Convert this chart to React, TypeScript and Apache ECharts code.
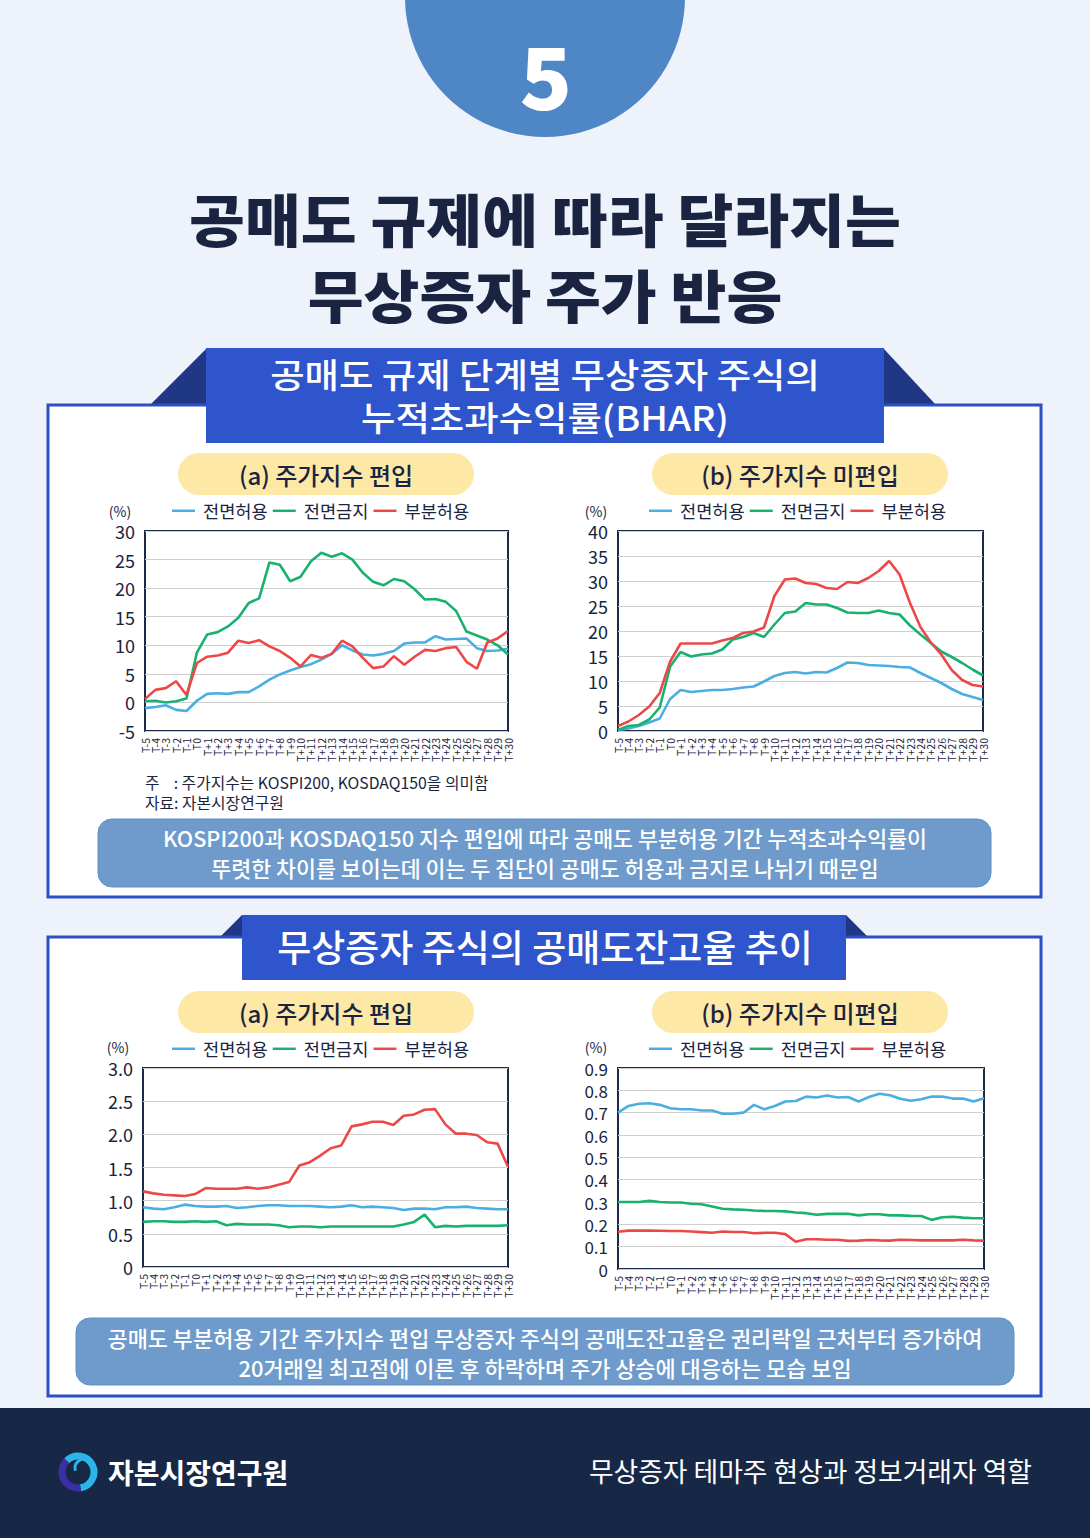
import React, { useEffect, useRef } from "react";
import * as echarts from "echarts";

const FONT = '"Noto Sans CJK KR", "Noto Sans", sans-serif';
const NAVY = "#1a2440";
const C_BLUE = "#4aaee2";
const C_GREEN = "#19b16e";
const C_RED = "#ec4848";

const categories = [
  "T-5", "T-4", "T-3", "T-2", "T-1", "T0",
  "T+1", "T+2", "T+3", "T+4", "T+5", "T+6", "T+7", "T+8", "T+9", "T+10",
  "T+11", "T+12", "T+13", "T+14", "T+15", "T+16", "T+17", "T+18", "T+19", "T+20",
  "T+21", "T+22", "T+23", "T+24", "T+25", "T+26", "T+27", "T+28", "T+29", "T+30",
];
const seriesNames = ["전면허용", "전면금지", "부분허용"];

// (1a) BHAR, 주가지수 편입
const bharInAllow = [-1.0, -0.8, -0.5, -1.3, -1.5, 0.3, 1.5, 1.6, 1.5, 1.8, 1.8, 2.8, 4.0, 4.9, 5.6, 6.2, 6.7, 7.5, 8.5, 10.0, 9.1, 8.4, 8.2, 8.5, 9.0, 10.3, 10.5, 10.5, 11.6, 11.0, 11.1, 11.2, 9.5, 9.0, 9.1, 9.4];
const bharInBan = [0.2, 0.3, 0.0, 0.2, 0.7, 8.7, 11.9, 12.3, 13.3, 14.8, 17.4, 18.2, 24.5, 24.1, 21.2, 22.0, 24.7, 26.2, 25.5, 26.1, 25.0, 22.7, 21.1, 20.5, 21.6, 21.2, 19.8, 18.0, 18.1, 17.6, 16.0, 12.4, 11.7, 11.0, 10.0, 8.4];
const bharInPartial = [0.6, 2.2, 2.5, 3.7, 1.3, 6.9, 8.0, 8.2, 8.7, 10.8, 10.4, 10.9, 9.8, 9.0, 7.8, 6.3, 8.3, 7.8, 8.5, 10.8, 9.8, 7.8, 6.0, 6.3, 8.1, 6.6, 8.0, 9.2, 9.0, 9.5, 9.7, 7.1, 5.9, 10.5, 11.2, 12.5];

// (1b) BHAR, 주가지수 미편입
const bharOutAllow = [0.2, 0.5, 1.0, 1.7, 2.5, 6.4, 8.2, 7.8, 8.0, 8.2, 8.2, 8.4, 8.7, 8.9, 9.9, 11.0, 11.6, 11.8, 11.5, 11.8, 11.7, 12.6, 13.7, 13.6, 13.2, 13.1, 13.0, 12.8, 12.7, 11.6, 10.6, 9.6, 8.4, 7.4, 6.8, 6.2];
const bharOutBan = [0.2, 1.0, 1.2, 2.3, 4.7, 12.9, 15.8, 14.9, 15.3, 15.5, 16.3, 18.3, 18.8, 19.6, 18.8, 21.3, 23.6, 23.9, 25.6, 25.3, 25.3, 24.6, 23.7, 23.6, 23.6, 24.1, 23.6, 23.3, 21.1, 19.3, 17.6, 15.9, 14.8, 13.6, 12.3, 11.1];
const bharOutPartial = [1.0, 1.9, 3.2, 4.9, 7.6, 13.9, 17.5, 17.5, 17.5, 17.5, 18.1, 18.6, 19.6, 19.9, 20.7, 27.0, 30.3, 30.5, 29.6, 29.4, 28.6, 28.4, 29.8, 29.6, 30.6, 32.0, 34.0, 31.3, 25.6, 20.8, 17.7, 15.3, 12.2, 10.2, 9.2, 8.9];

// (2a) 공매도잔고율, 주가지수 편입
const shortInAllow = [0.90, 0.88, 0.87, 0.90, 0.94, 0.92, 0.91, 0.91, 0.92, 0.89, 0.90, 0.92, 0.93, 0.93, 0.92, 0.92, 0.92, 0.91, 0.90, 0.91, 0.93, 0.90, 0.91, 0.90, 0.89, 0.86, 0.88, 0.88, 0.87, 0.90, 0.90, 0.91, 0.89, 0.88, 0.87, 0.87];
const shortInBan = [0.68, 0.69, 0.69, 0.68, 0.68, 0.69, 0.68, 0.69, 0.63, 0.65, 0.64, 0.64, 0.64, 0.63, 0.60, 0.61, 0.61, 0.60, 0.61, 0.61, 0.61, 0.61, 0.61, 0.61, 0.61, 0.64, 0.68, 0.79, 0.60, 0.62, 0.61, 0.62, 0.62, 0.62, 0.62, 0.63];
const shortInPartial = [1.14, 1.11, 1.09, 1.08, 1.07, 1.10, 1.19, 1.18, 1.18, 1.18, 1.20, 1.18, 1.20, 1.24, 1.28, 1.53, 1.58, 1.68, 1.79, 1.83, 2.12, 2.15, 2.19, 2.19, 2.14, 2.28, 2.30, 2.37, 2.38, 2.15, 2.01, 2.01, 1.99, 1.88, 1.86, 1.51];

// (2b) 공매도잔고율, 주가지수 미편입
const shortOutAllow = [0.70, 0.73, 0.74, 0.742, 0.735, 0.72, 0.715, 0.715, 0.71, 0.71, 0.695, 0.695, 0.70, 0.735, 0.715, 0.73, 0.75, 0.752, 0.772, 0.768, 0.777, 0.768, 0.77, 0.75, 0.77, 0.785, 0.778, 0.762, 0.753, 0.76, 0.772, 0.772, 0.763, 0.763, 0.75, 0.765];
const shortOutBan = [0.30, 0.30, 0.30, 0.305, 0.30, 0.298, 0.298, 0.292, 0.29, 0.28, 0.27, 0.267, 0.265, 0.262, 0.26, 0.26, 0.258, 0.253, 0.25, 0.243, 0.247, 0.247, 0.247, 0.24, 0.245, 0.245, 0.24, 0.24, 0.238, 0.237, 0.22, 0.232, 0.234, 0.23, 0.227, 0.227];
const shortOutPartial = [0.167, 0.172, 0.172, 0.172, 0.171, 0.17, 0.17, 0.168, 0.165, 0.162, 0.168, 0.166, 0.166, 0.16, 0.162, 0.162, 0.156, 0.122, 0.133, 0.133, 0.131, 0.131, 0.126, 0.127, 0.13, 0.128, 0.127, 0.131, 0.13, 0.128, 0.128, 0.128, 0.128, 0.131, 0.128, 0.127];

const chartData = [
  [bharInAllow, bharInBan, bharInPartial],
  [bharOutAllow, bharOutBan, bharOutPartial],
  [shortInAllow, shortInBan, shortInPartial],
  [shortOutAllow, shortOutBan, shortOutPartial],
];
const yScales = [
  { min: -5, max: 30, interval: 5, digits: 0 },
  { min: 0, max: 40, interval: 5, digits: 0 },
  { min: 0, max: 3, interval: 0.5, digits: 1 },
  { min: 0, max: 0.9, interval: 0.1, digits: 1 },
];
const grids = [
  { left: 145, top: 531, width: 363, height: 200 },
  { left: 618, top: 531, width: 365, height: 200 },
  { left: 143, top: 1068, width: 365, height: 199 },
  { left: 618, top: 1068, width: 366, height: 201 },
];
const legendPos = [
  { left: 172, top: 502 },
  { left: 649, top: 502 },
  { left: 172, top: 1040 },
  { left: 649, top: 1040 },
];
const colors = [C_BLUE, C_GREEN, C_RED];

function txt(text: string, x: number, y: number, size: number, fill: string, opts: any = {}) {
  return {
    type: "text",
    z: opts.z ?? 10,
    x,
    y,
    scaleX: opts.scaleX ?? 1,
    style: {
      text,
      x: 0,
      y: 0,
      fill,
      fontSize: size,
      fontFamily: FONT,
      fontWeight: opts.weight ?? "normal",
      textAlign: opts.align ?? "center",
      textVerticalAlign: "middle",
      lineHeight: opts.lineHeight,
    },
  };
}

function buildOption() {
  const graphic: any[] = [];
  // top circle
  graphic.push({ type: "circle", z: -5, shape: { cx: 545, cy: -3, r: 140 }, style: { fill: "#4f86c6" } });
  graphic.push(txt("5", 546, 72, 86, "#ffffff", { weight: 900 }));
  // title
  graphic.push(txt("공매도 규제에 따라 달라지는", 545, 217, 57, NAVY, { weight: 900, scaleX: 1.065 }));
  graphic.push(txt("무상증자 주가 반응", 545, 293, 57, NAVY, { weight: 900, scaleX: 1.065 }));

  // section 1 panel
  graphic.push({ type: "polygon", z: -6, shape: { points: [[150, 405], [206, 349], [206, 405]] }, style: { fill: "#1f3784" } });
  graphic.push({ type: "polygon", z: -6, shape: { points: [[884, 349], [936, 405], [884, 405]] }, style: { fill: "#1f3784" } });
  graphic.push({ type: "rect", z: -5, shape: { x: 48, y: 405, width: 993, height: 492 }, style: { fill: "#ffffff", stroke: "#2c4fc4", lineWidth: 3 } });
  graphic.push({ type: "rect", z: -4, shape: { x: 206, y: 348, width: 678, height: 95 }, style: { fill: "#2f55cc" } });
  graphic.push(txt("공매도 규제 단계별 무상증자 주식의", 545, 373, 34, "#ffffff", { weight: 500, scaleX: 1.1 }));
  graphic.push(txt("누적초과수익률(BHAR)", 545, 416, 34, "#ffffff", { weight: 500, scaleX: 1.1 }));

  // section 2 panel
  graphic.push({ type: "polygon", z: -6, shape: { points: [[220, 937], [242, 915], [242, 937]] }, style: { fill: "#1f3784" } });
  graphic.push({ type: "polygon", z: -6, shape: { points: [[846, 915], [868, 937], [846, 937]] }, style: { fill: "#1f3784" } });
  graphic.push({ type: "rect", z: -5, shape: { x: 48, y: 937, width: 993, height: 459 }, style: { fill: "#ffffff", stroke: "#2c4fc4", lineWidth: 3 } });
  graphic.push({ type: "rect", z: -4, shape: { x: 242, y: 915, width: 604, height: 65 }, style: { fill: "#2f55cc" } });
  graphic.push(txt("무상증자 주식의 공매도잔고율 추이", 545, 946, 37, "#ffffff", { weight: 500 }));

  // pills
  const pills = [
    { x: 178, y: 453, t: "(a) 주가지수 편입" },
    { x: 652, y: 453, t: "(b) 주가지수 미편입" },
    { x: 178, y: 991, t: "(a) 주가지수 편입" },
    { x: 652, y: 991, t: "(b) 주가지수 미편입" },
  ];
  pills.forEach((p) => {
    graphic.push({ type: "rect", z: -3, shape: { x: p.x, y: p.y, width: 296, height: 42, r: 21 }, style: { fill: "#fde8a6" } });
    graphic.push(txt(p.t, p.x + 148, p.y + 21, 24, NAVY, { weight: 500 }));
  });

  // (%) labels
  graphic.push(txt("(%)", 120, 511, 14, NAVY));
  graphic.push(txt("(%)", 596, 511, 14, NAVY));
  graphic.push(txt("(%)", 118, 1047, 14, NAVY));
  graphic.push(txt("(%)", 596, 1047, 14, NAVY));

  // notes
  graphic.push(txt("주    : 주가지수는 KOSPI200, KOSDAQ150을 의미함", 145, 782, 15.8, NAVY, { align: "left" }));
  graphic.push(txt("자료: 자본시장연구원", 145, 802, 15.8, NAVY, { align: "left" }));

  // summary boxes
  graphic.push({ type: "rect", z: -3, shape: { x: 98, y: 819, width: 893, height: 68, r: 14 }, style: { fill: "#6e9bcb", stroke: "#5f8fc3", lineWidth: 1 } });
  graphic.push(txt("KOSPI200과 KOSDAQ150 지수 편입에 따라 공매도 부분허용 기간 누적초과수익률이", 545, 837, 21.7, "#ffffff", { weight: 500 }));
  graphic.push(txt("뚜렷한 차이를 보이는데 이는 두 집단이 공매도 허용과 금지로 나뉘기 때문임", 545, 867, 21.7, "#ffffff", { weight: 500 }));
  graphic.push({ type: "rect", z: -3, shape: { x: 76, y: 1318, width: 938, height: 67, r: 14 }, style: { fill: "#6e9bcb", stroke: "#5f8fc3", lineWidth: 1 } });
  graphic.push(txt("공매도 부분허용 기간 주가지수 편입 무상증자 주식의 공매도잔고율은 권리락일 근처부터 증가하여", 545, 1337, 21.9, "#ffffff", { weight: 500 }));
  graphic.push(txt("20거래일 최고점에 이른 후 하락하며 주가 상승에 대응하는 모습 보임", 545, 1367, 21.9, "#ffffff", { weight: 500 }));

  // footer
  graphic.push({ type: "rect", z: -5, shape: { x: 0, y: 1408, width: 1090, height: 130 }, style: { fill: "#172847" } });
  graphic.push({ type: "arc", z: 5, shape: { cx: 78, cy: 1472, r: 16, startAngle: -Math.PI * 0.75, endAngle: Math.PI * 0.45 }, style: { stroke: "#2bb5ea", lineWidth: 7, fill: "none" } });
  graphic.push({ type: "arc", z: 5, shape: { cx: 78, cy: 1472, r: 16, startAngle: Math.PI * 0.45, endAngle: Math.PI * 1.25 }, style: { stroke: "#3b2ea6", lineWidth: 7, fill: "none" } });
  graphic.push({ type: "arc", z: 6, shape: { cx: 84, cy: 1468, r: 9, startAngle: Math.PI * 0.9, endAngle: Math.PI * 1.6 }, style: { stroke: "#2bb5ea", lineWidth: 3, fill: "none" } });
  graphic.push(txt("자본시장연구원", 108, 1472, 28, "#ffffff", { weight: "bold", align: "left" }));
  graphic.push(txt("무상증자 테마주 현상과 정보거래자 역할", 1032, 1470, 26.8, "#ffffff", { align: "right" }));

  const series: any[] = [];
  chartData.forEach((group, gi) => {
    group.forEach((data, si) => {
      series.push({
        type: "line",
        name: seriesNames[si],
        xAxisIndex: gi,
        yAxisIndex: gi,
        data,
        showSymbol: false,
        symbol: "none",
        lineStyle: { color: colors[si], width: 2.6 },
        itemStyle: { color: colors[si] },
        z: 3 + si,
      });
    });
  });

  return {
    animation: false,
    backgroundColor: "#eef3fb",
    textStyle: { fontFamily: FONT },
    graphic: { elements: graphic },
    grid: grids.map((g) => ({
      ...g,
      show: true,
      backgroundColor: "#ffffff",
      borderColor: "#1b2a4a",
      borderWidth: 2,
      containLabel: false,
    })),
    legend: legendPos.map((p) => ({
      ...p,
      data: seriesNames,
      icon: "rect",
      itemWidth: 23,
      itemHeight: 2.5,
      itemGap: 5,
      padding: 0,
      selectedMode: false,
      textStyle: { fontSize: 17.6, color: NAVY, fontFamily: FONT, padding: [0, 0, 0, 3] },
    })),
    xAxis: grids.map((_, gi) => ({
      type: "category",
      gridIndex: gi,
      data: categories,
      boundaryGap: false,
      axisLine: { show: false },
      axisTick: { show: false },
      splitLine: { show: false },
      axisLabel: {
        interval: 0,
        rotate: 90,
        fontSize: 10.5,
        color: NAVY,
        margin: 7,
        fontFamily: FONT,
      },
    })),
    yAxis: yScales.map((s, gi) => ({
      type: "value",
      gridIndex: gi,
      min: s.min,
      max: s.max,
      interval: s.interval,
      axisLine: { show: false },
      axisTick: { show: false },
      splitLine: { show: true, lineStyle: { color: "#cfcfcf", width: 1 } },
      axisLabel: {
        fontSize: gi === 3 ? 17 : 18,
        color: NAVY,
        margin: 10,
        fontFamily: FONT,
        formatter: (v: number) => (Math.abs(v) < 1e-9 ? "0" : v.toFixed(s.digits)),
      },
    })),
    series,
  };
}

export default function App() {
  const ref = useRef<HTMLDivElement>(null);
  useEffect(() => {
    if (!ref.current) return;
    const chart = echarts.init(ref.current, undefined, { renderer: "svg" });
    chart.setOption(buildOption() as any);
    return () => chart.dispose();
  }, []);
  return (
    <div
      ref={ref}
      style={{ position: "absolute", left: 0, top: 0, width: 1090, height: 1538, background: "#eef3fb" }}
    />
  );
}
